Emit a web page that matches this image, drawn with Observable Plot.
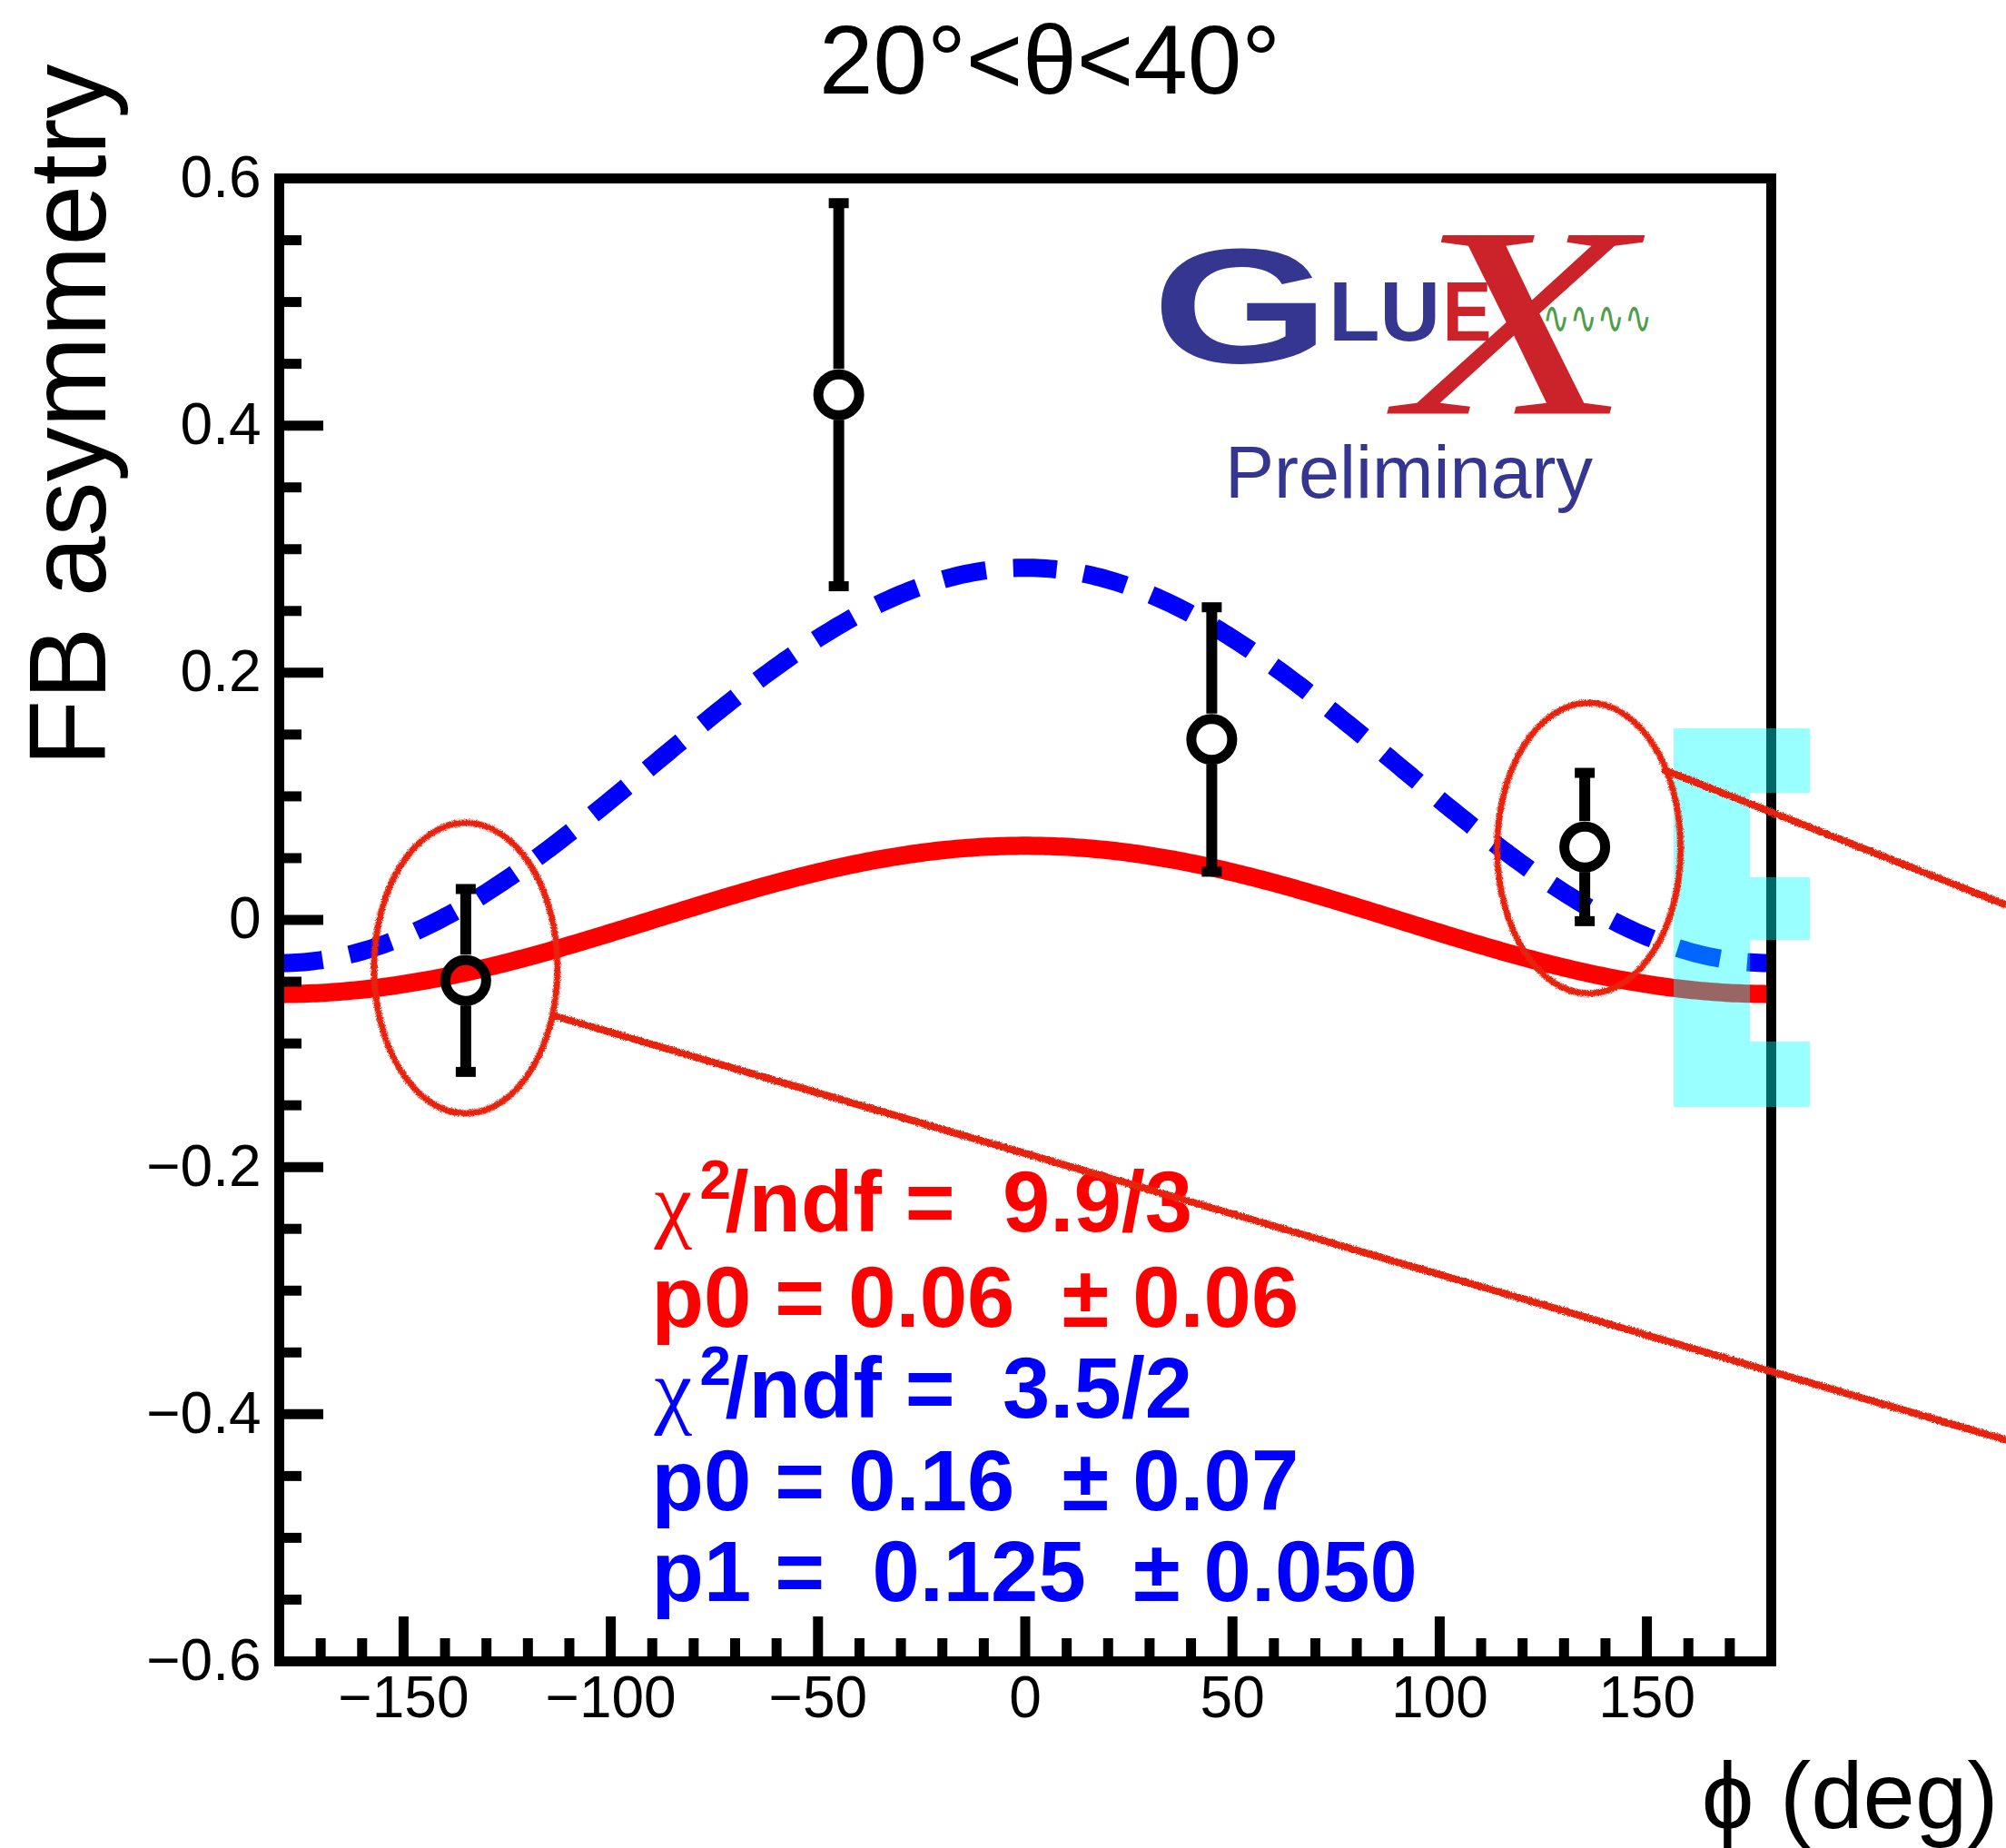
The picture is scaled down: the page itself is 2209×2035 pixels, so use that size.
<!DOCTYPE html>
<html>
<head>
<meta charset="utf-8">
<script src="https://cdn.jsdelivr.net/npm/d3@7"></script>
<script src="https://cdn.jsdelivr.net/npm/@observablehq/plot@0.6"></script>
<style>
  html, body { margin: 0; padding: 0; background: #ffffff; }
  #chart svg { display: block; }
</style>
</head>
<body>
<div id="chart"></div>
<script>
// Forward-backward asymmetry per phi bin, 20° < theta < 40°
const phi = [-135, -45, 45, 135];
const asym = [-0.049, 0.425, 0.146, 0.059];
const asymErr = [0.074, 0.155, 0.107, 0.060];

// Fit results: [value, error] and [chi2, ndf]
const redChi2 = [9.9, 3];
const redP0 = [0.06, 0.06];
const blueChi2 = [3.5, 2];
const blueP0 = [0.16, 0.07];
const blueP1 = [0.125, 0.050];

// Axis ticks
const xTicks = [-150, -100, -50, 0, 50, 100, 150];
const xMinor = d3.range(-170, 171, 10).filter(v => v % 50 !== 0);
const yTicks = [-0.6, -0.4, -0.2, 0, 0.2, 0.4, 0.6];
const yMinor = d3.range(-11, 12).filter(i => i % 4 !== 0).map(i => i * 0.05);

// Hand-drawn highlights: circled bins and the two callout strokes
const circledPhi = [-135, 136];
const circledA = [-0.039, 0.058];
const calloutX1 = [-114.3, 153.7];
const calloutY1 = [-0.077, 0.122];
const calloutX2 = [236.8, 236.8];
const calloutY2 = [-0.421, 0.012];

// Translucent bracket-shaped highlight at the right edge
const bracketX1 = [156.5, 175.0, 175.0, 175.0];
const bracketX2 = [175.0, 189.4, 189.4, 189.4];
const bracketY1 = [-0.152, 0.1025, -0.0165, -0.152];
const bracketY2 = [0.155, 0.155, 0.034, -0.099];

// ---- layout ----
const W = 2209, H = 2035;
const ML = 307, MR = 259, MT = 196, MB = 206;
const FW = W - ML - MR, FH = H - MT - MB;
const SANS = "Liberation Sans, Arial, Helvetica, sans-serif";
const SERIF = "Liberation Serif, Times New Roman, serif";
const CRAYON = "#e8220f";
const LOGO_BLUE = "#343690";
const LOGO_RED = "#cc2229";

const points = phi.map((p, i) => ({phi: p, a: asym[i], e: asymErr[i]}));
const caps = points.flatMap(d => [{phi: d.phi, y: d.a + d.e}, {phi: d.phi, y: d.a - d.e}]);
const circled = circledPhi.map((p, i) => ({phi: p, a: circledA[i]}));
const callouts = calloutX1.map((x, i) => ({x1: x, y1: calloutY1[i], x2: calloutX2[i], y2: calloutY2[i]}));
const bracket = bracketX1.map((x, i) => ({x1: x, x2: bracketX2[i], y1: bracketY1[i], y2: bracketY2[i]}));
const phiGrid = d3.range(-180, 180.5, 1);
const rad = d => d * Math.PI / 180;

// fit functions
const redFit = d => redP0[0] * Math.cos(rad(d));
const blueFit = d => blueP1[0] + blueP0[0] * Math.cos(rad(d));

const minus = s => s.replace("-", "\u2212");
const fmtX = d => minus(String(d));
const fmtY = d => d === 0 ? "0" : minus(d.toFixed(1));

// custom symbols
const capSymbol = {draw(ctx) { ctx.moveTo(-11, -5.5); ctx.lineTo(11, -5.5); ctx.lineTo(11, 5.5); ctx.lineTo(-11, 5.5); ctx.closePath(); }};
const ellipseSymbol = {draw(ctx) {
  const rx = 101, ry = 160, k = 0.5523;
  ctx.moveTo(rx, 0);
  ctx.bezierCurveTo(rx, ry * k, rx * k, ry, 0, ry);
  ctx.bezierCurveTo(-rx * k, ry, -rx, ry * k, -rx, 0);
  ctx.bezierCurveTo(-rx, -ry * k, -rx * k, -ry, 0, -ry);
  ctx.bezierCurveTo(rx * k, -ry, rx, -ry * k, rx, 0);
  ctx.closePath();
}};

// a single text placed relative to the frame's top-left corner
const label = (text, dx, dy, opts = {}) => Plot.text([text], {
  text: d => d, frameAnchor: "top-left", dx, dy, lineAnchor: "bottom",
  textAnchor: "start", fontFamily: SANS, ...opts
});

const NB = "\u00a0";
const statRows = [
  {color: "#ff0000", chi: true, body: `/ndf =${NB} ${redChi2[0].toFixed(1)}/${redChi2[1]}`, dy: 1159},
  {color: "#ff0000", chi: false, body: `p0 = ${redP0[0].toFixed(2)}${NB} \u00b1 ${redP0[1].toFixed(2)}`, dy: 1264},
  {color: "#0000ff", chi: true, body: `/ndf =${NB} ${blueChi2[0].toFixed(1)}/${blueChi2[1]}`, dy: 1364},
  {color: "#0000ff", chi: false, body: `p0 = ${blueP0[0].toFixed(2)}${NB} \u00b1 ${blueP0[1].toFixed(2)}`, dy: 1466},
  {color: "#0000ff", chi: false, body: `p1 =${NB} ${blueP1[0].toFixed(3)}${NB} \u00b1 ${blueP1[1].toFixed(3)}`, dy: 1566}
];
const statMarks = statRows.flatMap(r => r.chi ? [
  label("\u03c7", 413, r.dy, {fill: r.color, fontFamily: SERIF, fontSize: 94}),
  label("2", 463, r.dy - 36, {fill: r.color, fontWeight: "bold", fontSize: 62}),
  label(r.body, 491, r.dy, {fill: r.color, fontWeight: "bold", fontSize: 94})
] : [
  label(r.body, 410, r.dy, {fill: r.color, fontWeight: "bold", fontSize: 94})
]);

const chart = Plot.plot({
  width: W, height: H,
  marginLeft: ML, marginRight: MR, marginTop: MT, marginBottom: MB,
  style: {background: "#ffffff", fontFamily: SANS, overflow: "visible"},
  x: {domain: [-180, 180], axis: null},
  y: {domain: [-0.6, 0.6], axis: null},
  marks: [
    // fit curves
    Plot.line(phiGrid, {x: d => d, y: redFit, stroke: "#ff0000", strokeWidth: 20, strokeLinecap: "butt"}),
    Plot.line(phiGrid, {x: d => d, y: blueFit, stroke: "#0000ff", strokeWidth: 20, strokeLinecap: "butt", strokeDasharray: "48,30"}),
    // data with error bars
    Plot.ruleX(points, {x: "phi", y1: d => d.a + d.e, y2: "a", insetBottom: 28, stroke: "black", strokeWidth: 12}),
    Plot.ruleX(points, {x: "phi", y1: "a", y2: d => d.a - d.e, insetTop: 28, stroke: "black", strokeWidth: 12}),
    Plot.dot(caps, {x: "phi", y: "y", symbol: capSymbol, fill: "black", stroke: "none"}),
    Plot.dot(points, {x: "phi", y: "a", r: 22.5, fill: "none", stroke: "black", strokeWidth: 11}),
    // frame and inward ticks
    Plot.frame({stroke: "black", strokeWidth: 11}),
    Plot.tickX(xTicks, {x: d => d, insetTop: FH - 49, stroke: "black", strokeWidth: 11}),
    Plot.tickX(xMinor, {x: d => d, insetTop: FH - 25, stroke: "black", strokeWidth: 11}),
    Plot.tickY(yTicks, {y: d => d, insetRight: FW - 49, stroke: "black", strokeWidth: 11}),
    Plot.tickY(yMinor, {y: d => d, insetRight: FW - 25, stroke: "black", strokeWidth: 11}),
    Plot.text(xTicks, {x: d => d, text: fmtX, frameAnchor: "bottom", lineAnchor: "top", dy: 16, fontSize: 64, fill: "black"}),
    Plot.text(yTicks, {y: d => d, text: fmtY, frameAnchor: "left", textAnchor: "end", dx: -20, fontSize: 64, fill: "black"}),
    // titles
    Plot.text(["20°<θ<40°"], {text: d => d, frameAnchor: "top", dx: 27, dy: -94, lineAnchor: "bottom", fontSize: 107, fill: "black"}),
    label("FB asymmetry", -192, -126, {rotate: -90, textAnchor: "end", fontSize: 120, fill: "black"}),
    Plot.text(["\u03d5 (deg)"], {text: d => d, frameAnchor: "bottom-right", dx: 250, dy: 183, lineAnchor: "bottom", textAnchor: "end", fontSize: 103, fill: "black"}),
    // fit statistics
    ...statMarks,
    // experiment logo
    label("G", 1059, 202, {textAnchor: "middle", fontWeight: "bold", fontSize: 180, fill: LOGO_BLUE, ariaDescription: "logo-G"}),
    label("LU", 1217, 178, {textAnchor: "middle", fontWeight: "bold", fontSize: 92, fill: LOGO_BLUE, ariaDescription: "logo-LU"}),
    label("E", 1308, 178, {textAnchor: "middle", fontWeight: "bold", fontSize: 92, fill: LOGO_RED, ariaDescription: "logo-E"}),
    label("X", 1362, 259, {textAnchor: "middle", fontFamily: SERIF, fontStyle: "italic", fontSize: 300, fill: LOGO_RED, ariaDescription: "logo-X"}),
    label("\u223f\u223f\u223f\u223f", 1391, 170, {fontFamily: "DejaVu Sans", fontSize: 50, fill: "#4f9d49", ariaDescription: "logo-wave"}),
    label("Preliminary", 1244, 351, {textAnchor: "middle", fontSize: 81, fill: LOGO_BLUE}),
    // translucent highlight
    Plot.rect(bracket, {x1: "x1", x2: "x2", y1: "y1", y2: "y2", fill: "#00ffff", fillOpacity: 0.4, shapeRendering: "crispEdges"}),
    // hand-drawn circles and callouts
    Plot.dot(circled, {x: "phi", y: "a", symbol: ellipseSymbol, fill: "none", stroke: CRAYON, strokeWidth: 7}),
    Plot.link(callouts, {x1: "x1", y1: "y1", x2: "x2", y2: "y2", stroke: CRAYON, strokeWidth: 8}),
    // formula running off the bottom edge
    label("d", 471, 1922, {fontFamily: SERIF, fontStyle: "italic", fontSize: 100, fill: "#ff0000"}),
    label(`(\u03b8,${NB} \u03d5)`, 774, 1922, {fontFamily: SERIF, fontStyle: "italic", fontSize: 100, fill: "#ff0000"})
  ]
});

document.getElementById("chart").appendChild(chart);

// rough pencil texture for the hand-drawn strokes
const svg = d3.select(chart);
const filter = svg.insert("defs", ":first-child").append("filter")
  .attr("id", "crayon").attr("filterUnits", "userSpaceOnUse")
  .attr("x", 0).attr("y", 0).attr("width", W).attr("height", H);
filter.append("feTurbulence").attr("type", "fractalNoise").attr("baseFrequency", 0.7)
  .attr("numOctaves", 2).attr("seed", 4).attr("result", "noise");
filter.append("feDisplacementMap").attr("in", "SourceGraphic").attr("in2", "noise")
  .attr("scale", 4).attr("xChannelSelector", "R").attr("yChannelSelector", "G");
svg.selectAll(`g[stroke="${CRAYON}"]`).attr("filter", "url(#crayon)");

// widen / narrow the logo lettering
const stretch = (desc, sx) => svg.selectAll(`g[aria-description="${desc}"] text`)
  .attr("transform", function() { return (this.getAttribute("transform") || "") + ` scale(${sx},1)`; });
stretch("logo-G", 1.4);
stretch("logo-E", 0.88);
stretch("logo-X", 1.4);
stretch("logo-wave", 0.72);
</script>
</body>
</html>
